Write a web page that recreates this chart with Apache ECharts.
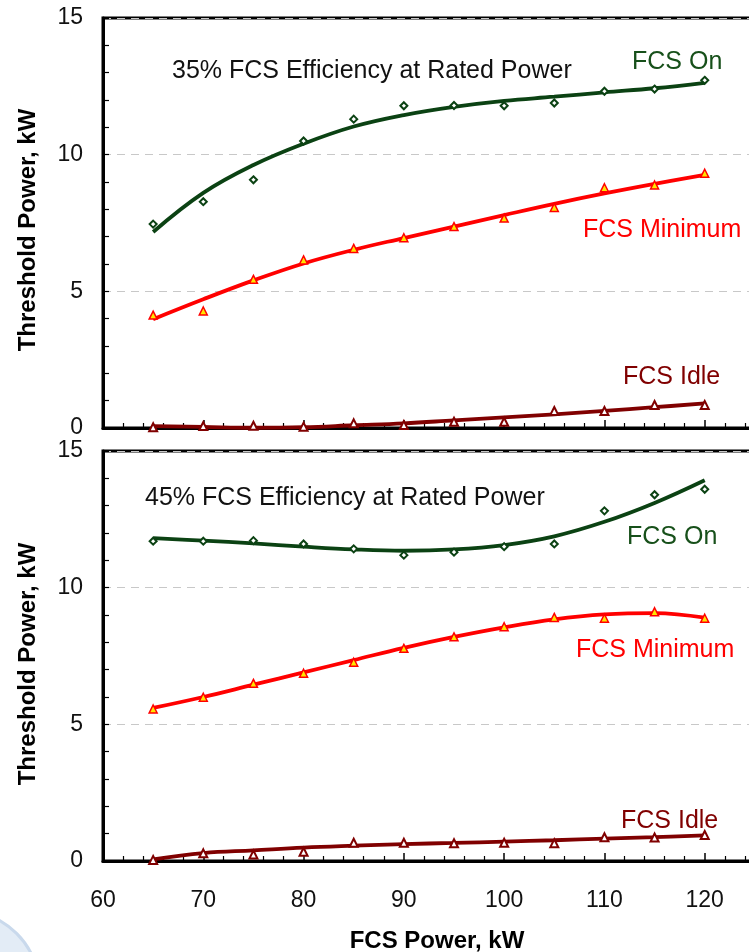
<!DOCTYPE html>
<html>
<head>
<meta charset="utf-8">
<script src="https://cdn.jsdelivr.net/npm/echarts@6/dist/echarts.min.js"></script>
<title>threshold power</title>
<style type="text/css">
* {margin:0; padding:0;}
html, body {width:749px; height:952px; background:#fff; overflow:hidden;}
#chart {width:749px; height:952px;}
</style>
</head>
<body>
<div id="chart"></div>
<script>
// FCS power, kW
var xs = [65, 70, 75, 80, 85, 90, 95, 100, 105, 110, 115, 120];

// 35% FCS efficiency at rated power
var on35      = [7.46, 8.28, 9.08, 10.5, 11.3, 11.79, 11.8, 11.79, 11.89, 12.32, 12.4, 12.72];
var on35Fit   = [7.17, 8.6, 9.62, 10.4, 11.03, 11.45, 11.75, 11.97, 12.12, 12.28, 12.43, 12.63];
var min35     = [4.13, 4.28, 5.44, 6.15, 6.57, 6.96, 7.37, 7.68, 8.07, 8.79, 8.89, 9.32];
var min35Fit  = [3.98, 4.71, 5.4, 6.02, 6.52, 6.95, 7.37, 7.79, 8.2, 8.58, 8.93, 9.26];
var idle35    = [0.03, 0.07, 0.08, 0.05, 0.17, 0.11, 0.23, 0.23, 0.62, 0.62, 0.84, 0.84];
var idle35Fit = [0.07, 0.04, 0.01, 0.03, 0.1, 0.17, 0.28, 0.39, 0.5, 0.63, 0.76, 0.9];

// 45% FCS efficiency at rated power
var on45      = [11.7, 11.7, 11.72, 11.6, 11.42, 11.19, 11.3, 11.5, 11.6, 12.81, 13.4, 13.6];
var on45Fit   = [11.81, 11.72, 11.62, 11.5, 11.4, 11.35, 11.4, 11.56, 11.88, 12.41, 13.1, 13.93];
var min45     = [5.56, 5.99, 6.5, 6.87, 7.27, 7.78, 8.2, 8.57, 8.91, 8.88, 9.12, 8.88];
var min45Fit  = [5.6, 6.0, 6.45, 6.9, 7.35, 7.8, 8.2, 8.55, 8.84, 9.02, 9.07, 8.9];
var idle45    = [0.04, 0.28, 0.24, 0.34, 0.67, 0.67, 0.65, 0.67, 0.65, 0.87, 0.86, 0.95];
var idle45Fit = [0.06, 0.29, 0.39, 0.49, 0.56, 0.62, 0.66, 0.71, 0.76, 0.82, 0.87, 0.94];

var GREEN = '#0b4213', RED = '#ff0000', DKRED = '#800000';
var FONT = '"Liberation Sans", Arial, sans-serif';

function pairs(v) {
	return xs.map(function (x, i) { return [x, v[i]]; });
}

function fitLine(idx, v, color) {
	return {
		type: 'line', xAxisIndex: idx, yAxisIndex: idx,
		data: pairs(v), smooth: 0.4, showSymbol: false, symbol: 'none',
		lineStyle: {color: color, width: 3.8}, z: 2
	};
}

function dots(idx, v, symbol, fill, stroke, size) {
	return {
		type: 'scatter', xAxisIndex: idx, yAxisIndex: idx,
		data: pairs(v), symbol: symbol, symbolSize: size,
		itemStyle: {color: fill, borderColor: stroke, borderWidth: 1.5, opacity: 1}, z: 3
	};
}

function xAx(idx, showLabel) {
	return {
		type: 'value', gridIndex: idx, min: 60, max: 130, interval: 10,
		axisLine: {show: true, onZero: false, lineStyle: {color: '#000', width: 3}},
		axisTick: {show: true, inside: true, length: 8, lineStyle: {color: '#000', width: 1.5}},
		minorTick: {show: true, splitNumber: 5, length: 5, lineStyle: {color: '#000', width: 1.2}},
		splitLine: {show: false},
		axisLabel: {show: showLabel, margin: 28, color: '#111', fontSize: 23, fontFamily: FONT}
	};
}

function yAx(idx) {
	return {
		type: 'value', gridIndex: idx, min: 0, max: 15, interval: 5,
		axisLine: {show: true, lineStyle: {color: '#000', width: 3}},
		axisTick: {show: true, inside: true, length: 6, lineStyle: {color: '#000', width: 1.2}},
		minorTick: {show: true, splitNumber: 5, length: 6, lineStyle: {color: '#000', width: 1.2}},
		splitLine: {show: true, lineStyle: {color: '#c8c8c8', type: [8, 6], width: 1}},
		axisLabel: {margin: 20, color: '#111', fontSize: 23, fontFamily: FONT}
	};
}

function label(x, y, text, color) {
	return {
		type: 'text', x: x, y: y, z: 10,
		style: {text: text, fill: color, fontSize: 25, fontFamily: FONT, align: 'left', verticalAlign: 'middle'}
	};
}

var chart = echarts.init(document.getElementById('chart'), null, {renderer: 'canvas'});
chart.setOption({
	backgroundColor: '#fff',
	animation: false,
	grid: [
		{left: 103, top: 18, height: 410, width: 702, outerBoundsMode: 'none', containLabel: false,
			show: true, borderColor: '#000', borderWidth: 3},
		{left: 103, top: 451, height: 410, width: 702, outerBoundsMode: 'none', containLabel: false,
			show: true, borderColor: '#000', borderWidth: 3}
	],
	xAxis: [xAx(0, false), xAx(1, true)],
	yAxis: [yAx(0), yAx(1)],
	series: [
		fitLine(0, on35Fit, GREEN),
		fitLine(0, min35Fit, RED),
		fitLine(0, idle35Fit, DKRED),
		dots(0, on35, 'emptyDiamond', GREEN, GREEN, 7),
		dots(0, min35, 'triangle', '#ffe600', RED, 8),
		dots(0, idle35, 'emptyTriangle', DKRED, DKRED, 8),
		fitLine(1, on45Fit, GREEN),
		fitLine(1, min45Fit, RED),
		fitLine(1, idle45Fit, DKRED),
		dots(1, on45, 'emptyDiamond', GREEN, GREEN, 7),
		dots(1, min45, 'triangle', '#ffe600', RED, 8),
		dots(1, idle45, 'emptyTriangle', DKRED, DKRED, 8)
	],
	graphic: [
		{type: 'circle', shape: {cx: -40, cy: 990, r: 80}, style: {fill: '#e3ecf6', stroke: '#c9d9ec', lineWidth: 3}, z: 0},
		label(172, 71, '35% FCS Efficiency at Rated Power', '#111'),
		label(632, 62, 'FCS On', '#17501a'),
		label(583, 230, 'FCS Minimum', RED),
		label(623, 377, 'FCS Idle', DKRED),
		label(145, 498, '45% FCS Efficiency at Rated Power', '#111'),
		label(627, 537, 'FCS On', '#17501a'),
		label(576, 650, 'FCS Minimum', RED),
		label(621, 821, 'FCS Idle', DKRED),
		{type: 'text', x: 28, y: 230, rotation: Math.PI / 2, z: 10,
			style: {text: 'Threshold Power, kW', fill: '#000', fontSize: 24, fontWeight: 'bold', fontFamily: FONT, align: 'center', verticalAlign: 'middle'}},
		{type: 'text', x: 28, y: 664, rotation: Math.PI / 2, z: 10,
			style: {text: 'Threshold Power, kW', fill: '#000', fontSize: 24, fontWeight: 'bold', fontFamily: FONT, align: 'center', verticalAlign: 'middle'}},
		{type: 'text', x: 437, y: 941, z: 10,
			style: {text: 'FCS Power, kW', fill: '#000', fontSize: 24, fontWeight: 'bold', fontFamily: FONT, align: 'center', verticalAlign: 'middle'}}
	]
});
</script>
</body>
</html>
